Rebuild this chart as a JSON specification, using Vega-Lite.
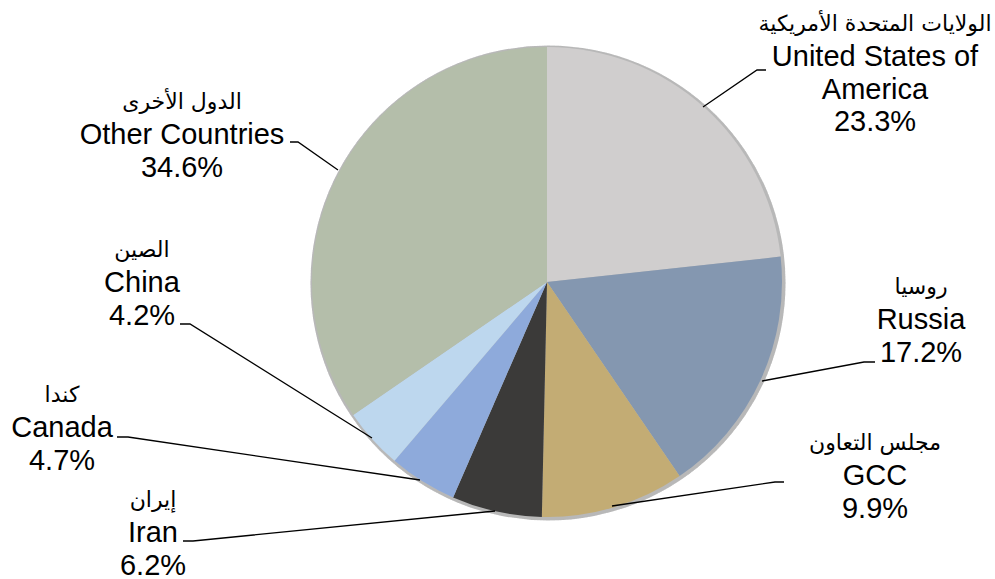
{
  "$schema": "https://vega.github.io/schema/vega-lite/v6.json",
  "width": 995,
  "height": 579,
  "padding": 0,
  "autosize": {"type": "none"},
  "background": "white",
  "config": {"view": {"stroke": null}},
  "datasets": {
    "shares": [
      {"country": "United States of America", "english": "United States of\nAmerica", "arabic": "الولايات المتحدة الأمريكية", "share": 23.3, "rank": 1, "lx": 875, "ly": 66},
      {"country": "Russia", "english": "Russia", "arabic": "روسيا", "share": 17.2, "rank": 2, "lx": 921, "ly": 329},
      {"country": "GCC", "english": "GCC", "arabic": "مجلس التعاون", "share": 9.9, "rank": 3, "lx": 875, "ly": 485},
      {"country": "Iran", "english": "Iran", "arabic": "إيران", "share": 6.2, "rank": 4, "lx": 153, "ly": 542},
      {"country": "Canada", "english": "Canada", "arabic": "كندا", "share": 4.7, "rank": 5, "lx": 62, "ly": 437},
      {"country": "China", "english": "China", "arabic": "الصين", "share": 4.2, "rank": 6, "lx": 142, "ly": 292},
      {"country": "Other Countries", "english": "Other Countries", "arabic": "الدول الأخرى", "share": 34.6, "rank": 7, "lx": 182, "ly": 144}
    ],
    "leaders": [
      {"country": "United States of America", "pt": 1, "x": 703, "y": 107},
      {"country": "United States of America", "pt": 2, "x": 757, "y": 70},
      {"country": "United States of America", "pt": 3, "x": 766, "y": 70},
      {"country": "Russia", "pt": 1, "x": 762, "y": 381},
      {"country": "Russia", "pt": 2, "x": 864, "y": 362},
      {"country": "Russia", "pt": 3, "x": 875, "y": 362},
      {"country": "GCC", "pt": 1, "x": 612, "y": 506},
      {"country": "GCC", "pt": 2, "x": 775, "y": 482},
      {"country": "GCC", "pt": 3, "x": 784, "y": 482},
      {"country": "Iran", "pt": 1, "x": 495, "y": 511},
      {"country": "Iran", "pt": 2, "x": 193, "y": 541},
      {"country": "Iran", "pt": 3, "x": 183, "y": 541},
      {"country": "Canada", "pt": 1, "x": 420, "y": 480},
      {"country": "Canada", "pt": 2, "x": 128, "y": 437},
      {"country": "Canada", "pt": 3, "x": 117, "y": 437},
      {"country": "China", "pt": 1, "x": 372, "y": 438},
      {"country": "China", "pt": 2, "x": 190, "y": 324},
      {"country": "China", "pt": 3, "x": 180, "y": 324},
      {"country": "Other Countries", "pt": 1, "x": 338, "y": 170},
      {"country": "Other Countries", "pt": 2, "x": 298, "y": 142},
      {"country": "Other Countries", "pt": 3, "x": 290, "y": 142}
    ]
  },
  "layer": [
    {
      "data": {"name": "shares"},
      "mark": {"type": "arc", "radius": 237.5, "theta": 0, "theta2": 6.2832, "color": "#000000", "opacity": 0.045},
      "encoding": {
        "x": {"datum": 548, "type": "quantitative", "scale": {"domain": [0, 995], "nice": false, "zero": false}, "axis": null},
        "y": {"datum": 283, "type": "quantitative", "scale": {"domain": [0, 579], "nice": false, "zero": false, "reverse": true}, "axis": null}
      }
    },
    {
      "data": {"name": "shares"},
      "mark": {"type": "arc", "radius": 235},
      "encoding": {
        "theta": {"field": "share", "type": "quantitative", "stack": true},
        "order": {"field": "rank", "type": "quantitative"},
        "color": {
          "field": "country", "type": "nominal", "legend": null,
          "scale": {
            "domain": ["United States of America", "Russia", "GCC", "Iran", "Canada", "China", "Other Countries"],
            "range": ["#D0CECE", "#8497B0", "#C3AC74", "#3B3A39", "#8EAADB", "#BDD7EE", "#B4BEAA"]
          }
        },
        "x": {"datum": 547, "type": "quantitative"},
        "y": {"datum": 282, "type": "quantitative"}
      }
    },
    {
      "data": {"name": "leaders"},
      "mark": {"type": "line", "color": "#000000", "strokeWidth": 1.3},
      "encoding": {
        "x": {"field": "x", "type": "quantitative"},
        "y": {"field": "y", "type": "quantitative"},
        "detail": {"field": "country", "type": "nominal"},
        "order": {"field": "pt", "type": "quantitative"}
      }
    },
    {
      "data": {"name": "shares"},
      "transform": [{"calculate": "datum.english + '\\n' + format(datum.share, '.1f') + '%'", "as": "lab"}],
      "mark": {"type": "text", "font": "Liberation Sans", "fontSize": 29, "lineHeight": 32.5, "lineBreak": "\n", "align": "center", "baseline": "alphabetic", "color": "#000000"},
      "encoding": {
        "x": {"field": "lx", "type": "quantitative"},
        "y": {"field": "ly", "type": "quantitative"},
        "text": {"field": "lab", "type": "nominal"}
      }
    },
    {
      "data": {"name": "shares"},
      "mark": {"type": "text", "font": "DejaVu Sans", "fontSize": 22, "dy": -35, "align": "center", "baseline": "alphabetic", "color": "#000000"},
      "encoding": {
        "x": {"field": "lx", "type": "quantitative"},
        "y": {"field": "ly", "type": "quantitative"},
        "text": {"field": "arabic", "type": "nominal"}
      }
    }
  ]
}
